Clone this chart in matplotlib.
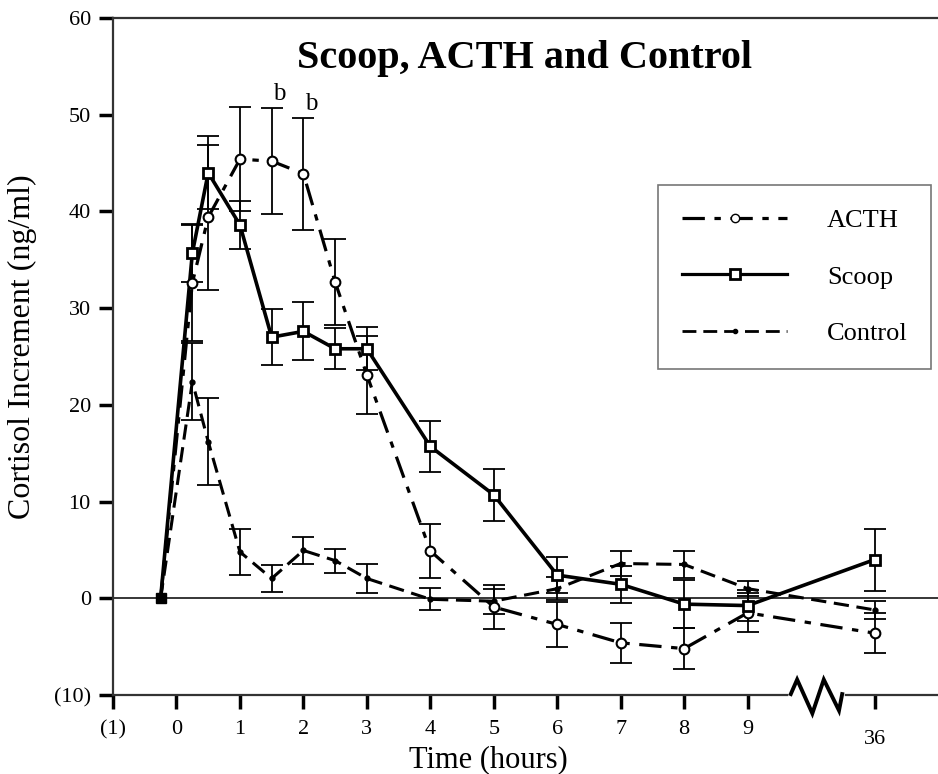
import matplotlib
matplotlib.use("Agg")
import matplotlib.pyplot as plt
import matplotlib.transforms as mtransforms
from matplotlib.lines import Line2D
import numpy as np

plt.rcParams['font.family'] = ['Liberation Serif', 'DejaVu Serif']

# ---- data ----
x_pos = [-0.25, 0.25, 0.5, 1, 1.5, 2, 2.5, 3, 4, 5, 6, 7, 8, 9, 11]
tick_pos = [-1, 0, 1, 2, 3, 4, 5, 6, 7, 8, 9, 11]
tick_labels = ['(1)', '0', '1', '2', '3', '4', '5', '6', '7', '8', '9', '36']
y_ticks = [-10, 0, 10, 20, 30, 40, 50, 60]
y_labels = ['(10)', '0', '10', '20', '30', '40', '50', '60']

acth = [0, 32.6, 39.4, 45.4, 45.2, 43.9, 32.7, 23.1, 4.9, -0.9, -2.7, -4.6, -5.2, -1.5, -3.6]
acth_err = [0, 6.0, 7.5, 5.4, 5.5, 5.8, 4.4, 4.0, 2.8, 2.3, 2.3, 2.1, 2.1, 2.0, 2.1]
scoop = [0, 35.7, 44.0, 38.6, 27.0, 27.6, 25.8, 25.8, 15.7, 10.7, 2.4, 1.45, -0.6, -0.75, 4.0]
scoop_err = [0, 3.0, 3.8, 2.5, 2.9, 3.0, 2.1, 2.2, 2.6, 2.7, 1.9, 1.9, 2.5, 1.6, 3.2]
control = [0, 22.4, 16.2, 4.8, 2.05, 4.95, 3.9, 2.05, -0.1, -0.3, 1.0, 3.6, 3.5, 1.0, -1.2]
control_err = [0, 4.0, 4.5, 2.4, 1.35, 1.35, 1.25, 1.5, 1.15, 1.3, 1.2, 1.3, 1.35, 0.8, 0.9]

sig_idx = [4, 5]  # ACTH points marked "b"

# axis-break zigzag (decoration, in data coordinates)
brk_x = [9.68, 9.78, 10.02, 10.2, 10.44, 10.49]
brk_y = [-9.9, -8.4, -11.9, -8.4, -11.6, -9.9]

fig = plt.figure(figsize=(9.38, 7.74), dpi=100)
ax = fig.add_axes([0.1205, 0.102, 0.8795, 0.8748])
ax.set_xlim(-1, 12)
ax.set_ylim(-10, 60)

ax.axhline(0, color='black', lw=1.1, zorder=1)

ACTH_DASH = (0, (7, 3, 2, 3))
CTRL_DASH = (0, (5, 2.5))
ebkw = dict(fmt='none', ecolor='black', elinewidth=1.3, capsize=8, capthick=1.3, zorder=2)

ax.errorbar(x_pos[1:], acth[1:], yerr=acth_err[1:], **ebkw)
ax.errorbar(x_pos[1:], scoop[1:], yerr=scoop_err[1:], **ebkw)
ax.errorbar(x_pos[1:], control[1:], yerr=control_err[1:], **ebkw)

ax.plot(x_pos, control, color='black', lw=2.2, linestyle=CTRL_DASH, zorder=3)
ax.plot(x_pos[1:], control[1:], linestyle='none', marker='o', ms=3.5, color='black', zorder=4)
ax.plot(x_pos, acth, color='black', lw=2.3, linestyle=ACTH_DASH, zorder=3)
ax.plot(x_pos[1:], acth[1:], linestyle='none', marker='o', ms=7, mfc='white', mec='black', mew=1.5, zorder=5)
ax.plot(x_pos, scoop, color='black', lw=2.6, linestyle='-', zorder=4)
ax.plot(x_pos[1:], scoop[1:], linestyle='none', marker='s', ms=7, mfc='white', mec='black', mew=2, zorder=6)
ax.plot(x_pos[:1], scoop[:1], linestyle='none', marker='s', ms=7.5, mfc='black', mec='black', zorder=6)

for i in sig_idx:
    ax.annotate('b', xy=(x_pos[i], acth[i] + acth_err[i]), xytext=(1, 2),
                textcoords='offset points', ha='left', va='bottom', fontsize=18)

# spines
ax.spines['right'].set_visible(False)
for s in ['left', 'bottom', 'top']:
    ax.spines[s].set_linewidth(1.6)
    ax.spines[s].set_color('#333333')

ax.set_xticks(tick_pos)
ax.set_xticklabels(tick_labels)
ax.set_yticks(y_ticks)
ax.set_yticklabels(y_labels)
ax.tick_params(axis='both', direction='out', length=10, width=2.5, labelsize=16, colors='black', pad=8)
ax.tick_params(axis='y', pad=6)
ax.xaxis.set_ticks_position('bottom')
# "36" sits a little lower
lab36 = ax.get_xticklabels()[-1]
lab36.set_transform(lab36.get_transform() + mtransforms.ScaledTranslation(0, -7 / 72, fig.dpi_scale_trans))

# axis break symbol
ax.plot([brk_x[0], brk_x[-1]], [-10, -10], color='white', lw=4, clip_on=False, zorder=7)
ax.plot(brk_x, brk_y, color='black', lw=2.8, clip_on=False, zorder=8, solid_joinstyle='miter')

fig.text(488 / 938, 1 - 760 / 774, 'Time (hours)', ha='center', va='center', fontsize=22)
fig.text(22 / 938, 1 - 347 / 774, 'Cortisol Increment (ng/ml)', ha='center', va='center',
         rotation=90, fontsize=23)

fig.text(0.559, 0.925, 'Scoop, ACTH and Control', ha='center', va='center', fontsize=29, fontweight='bold')

handles = [
    Line2D([], [], color='black', lw=2.3, linestyle=ACTH_DASH, marker='o', ms=6, mfc='white', mec='black'),
    Line2D([], [], color='black', lw=2.3, linestyle='-', marker='s', ms=7, mfc='white', mec='black', mew=2),
    Line2D([], [], color='black', lw=2, linestyle=CTRL_DASH, marker='o', ms=3),
]
leg = ax.legend(handles, ['ACTH', 'Scoop', 'Control'], loc='upper left',
                bbox_to_anchor=(0.7015, 0.761), bbox_transform=fig.transFigure,
                fontsize=19, handlelength=4.0, handletextpad=1.5, labelspacing=1.25,
                borderpad=0.9, fancybox=False, frameon=True, numpoints=1, borderaxespad=0)
leg.get_frame().set_edgecolor('#555555')
leg.get_frame().set_linewidth(1.2)

fig.savefig('out.png', dpi=100)
